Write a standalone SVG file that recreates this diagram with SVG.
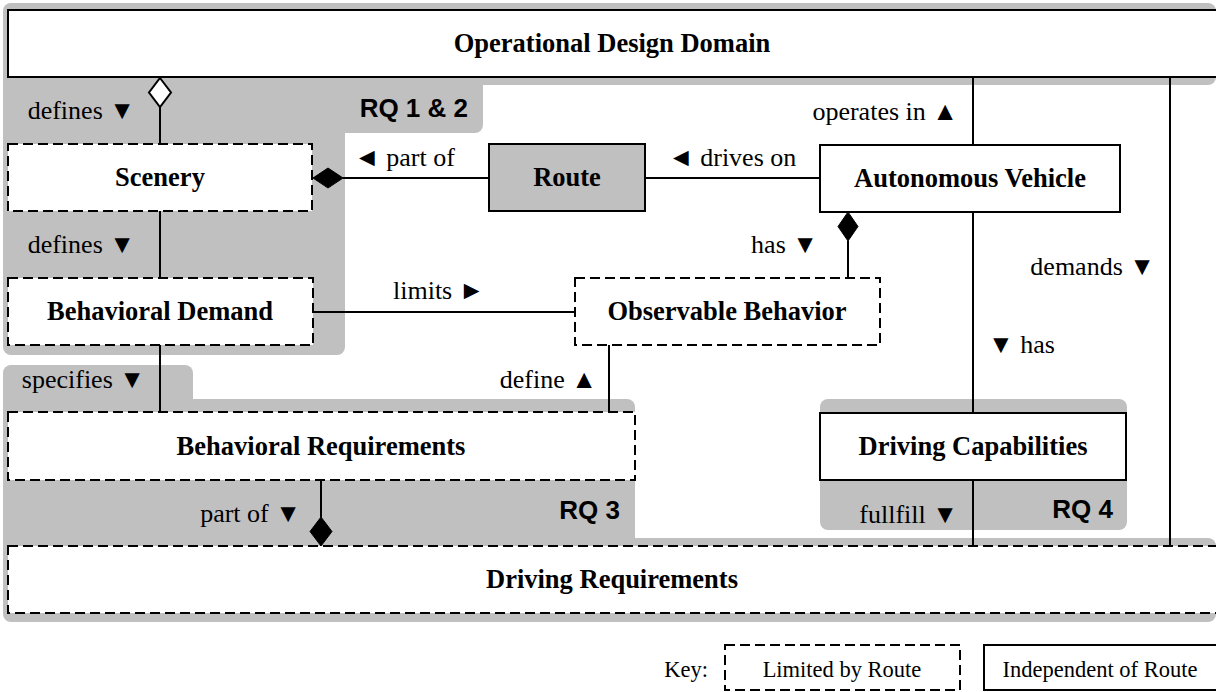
<svg xmlns="http://www.w3.org/2000/svg" width="1216" height="692" viewBox="0 0 1216 692">
  <style>
    .zone { fill: #c0c0c0; stroke: none; }
    .box { fill: #ffffff; stroke: #000; stroke-width: 2; }
    .dash { fill: #ffffff; stroke: #000; stroke-width: 2; stroke-dasharray: 10 5; }
    .grey { fill: #c0c0c0; stroke: #000; stroke-width: 2; }
    .title { font-family: "Liberation Serif", "Times New Roman", serif; font-weight: bold; font-size: 26.5px; fill: #000; text-anchor: middle; }
    .lbl { font-family: "Liberation Serif", "Times New Roman", serif; font-size: 26px; fill: #000; }
    .rq { font-family: "Liberation Sans", Arial, sans-serif; font-weight: bold; font-size: 26px; fill: #000; text-anchor: end; }
    .key { font-family: "Liberation Serif", "Times New Roman", serif; font-size: 22.5px; fill: #000; }
    .end { text-anchor: end; }
    .mid { text-anchor: middle; }
    .wire { stroke: #000; stroke-width: 2; fill: none; }
    .solid { fill: #000; stroke: #000; stroke-width: 1; }
    .hollow { fill: #fff; stroke: #000; stroke-width: 2; }
  </style>

  <!-- research-question zones -->
  <g id="zones">
    <rect class="zone" x="3" y="3" width="1213" height="82" rx="8"/>
    <rect class="zone" x="3" y="60" width="480" height="73" rx="8"/>
    <rect class="zone" x="3" y="100" width="342" height="255" rx="8"/>
    <rect class="zone" x="3" y="365" width="190" height="60" rx="8"/>
    <rect class="zone" x="3" y="399" width="632" height="160" rx="8"/>
    <rect class="zone" x="3" y="538" width="1213" height="84" rx="8"/>
    <rect class="zone" x="600" y="520" width="35" height="30"/>
    <rect class="zone" x="820" y="399" width="307" height="131" rx="8"/>
  </g>

  <!-- connectors -->
  <g id="connectors">
    <line class="wire" x1="160" y1="107" x2="160" y2="144"/>
    <polygon class="hollow" points="160,78 171,92.5 160,107 149,92.5"/>
    <line class="wire" x1="160" y1="211" x2="160" y2="278"/>
    <line class="wire" x1="160" y1="345" x2="160" y2="412"/>
    <line class="wire" x1="343" y1="178" x2="489" y2="178"/>
    <polygon class="solid" points="313,178 328,168 343,178 328,188"/>
    <line class="wire" x1="645" y1="178" x2="820" y2="178"/>
    <line class="wire" x1="973" y1="77" x2="973" y2="145"/>
    <line class="wire" x1="1170" y1="77" x2="1170" y2="546"/>
    <line class="wire" x1="313" y1="312" x2="575" y2="312"/>
    <line class="wire" x1="848" y1="241" x2="848" y2="278"/>
    <polygon class="solid" points="848,212 858,226.5 848,241 838,226.5"/>
    <line class="wire" x1="973" y1="212" x2="973" y2="413"/>
    <line class="wire" x1="609" y1="345" x2="609" y2="412"/>
    <line class="wire" x1="321" y1="480" x2="321" y2="517"/>
    <polygon class="solid" points="321,517 332,531.5 321,546 310,531.5"/>
    <line class="wire" x1="973" y1="480" x2="973" y2="546"/>
  </g>

  <!-- nodes -->
  <g id="odd">
    <rect class="box" x="8" y="10" width="1220" height="67" stroke-width="2.5"/>
    <text class="title" x="612" y="52">Operational Design Domain</text>
  </g>
  <g id="scenery">
    <rect class="dash" x="8" y="144" width="304" height="67"/>
    <text class="title" x="160" y="186">Scenery</text>
  </g>
  <g id="route">
    <rect class="grey" x="489" y="144" width="156" height="67"/>
    <text class="title" x="567" y="186">Route</text>
  </g>
  <g id="vehicle">
    <rect class="box" x="820" y="145" width="300" height="67"/>
    <text class="title" x="970" y="187">Autonomous Vehicle</text>
  </g>
  <g id="behavioral-demand">
    <rect class="dash" x="8" y="278" width="305" height="67"/>
    <text class="title" x="160" y="320">Behavioral Demand</text>
  </g>
  <g id="observable-behavior">
    <rect class="dash" x="575" y="278" width="305" height="67"/>
    <text class="title" x="727" y="320">Observable Behavior</text>
  </g>
  <g id="behavioral-requirements">
    <rect class="dash" x="8" y="412" width="627" height="68"/>
    <text class="title" x="321" y="455">Behavioral Requirements</text>
  </g>
  <g id="driving-capabilities">
    <rect class="box" x="820" y="413" width="306" height="67"/>
    <text class="title" x="973" y="455">Driving Capabilities</text>
  </g>
  <g id="driving-requirements">
    <rect class="dash" x="8" y="546" width="1220" height="67"/>
    <text class="title" x="612" y="588">Driving Requirements</text>
  </g>

  <!-- relation labels -->
  <g id="labels">
    <text class="lbl end" x="135" y="119">defines ▼</text>
    <text class="lbl" x="354" y="166">◄ part of</text>
    <text class="lbl" x="668" y="166">◄ drives on</text>
    <text class="lbl end" x="958" y="120">operates in ▲</text>
    <text class="lbl end" x="135" y="253">defines ▼</text>
    <text class="lbl" x="393" y="299">limits ►</text>
    <text class="lbl end" x="818" y="253">has ▼</text>
    <text class="lbl end" x="1155" y="275">demands ▼</text>
    <text class="lbl" x="988" y="353">▼ has</text>
    <text class="lbl end" x="145" y="388">specifies ▼</text>
    <text class="lbl end" x="597" y="388">define ▲</text>
    <text class="lbl end" x="301" y="522">part of ▼</text>
    <text class="lbl end" x="958" y="523">fullfill ▼</text>
    <text class="rq" x="468" y="117">RQ 1 &amp; 2</text>
    <text class="rq" x="620" y="519">RQ 3</text>
    <text class="rq" x="1113" y="518">RQ 4</text>
  </g>

  <!-- legend -->
  <g id="legend">
    <text class="key end" x="708" y="677">Key:</text>
    <rect class="dash" x="725" y="645" width="235" height="45"/>
    <text class="key mid" x="842" y="677">Limited by Route</text>
    <rect class="box" x="984" y="645" width="240" height="45"/>
    <text class="key mid" x="1100" y="677">Independent of Route</text>
  </g>
</svg>
